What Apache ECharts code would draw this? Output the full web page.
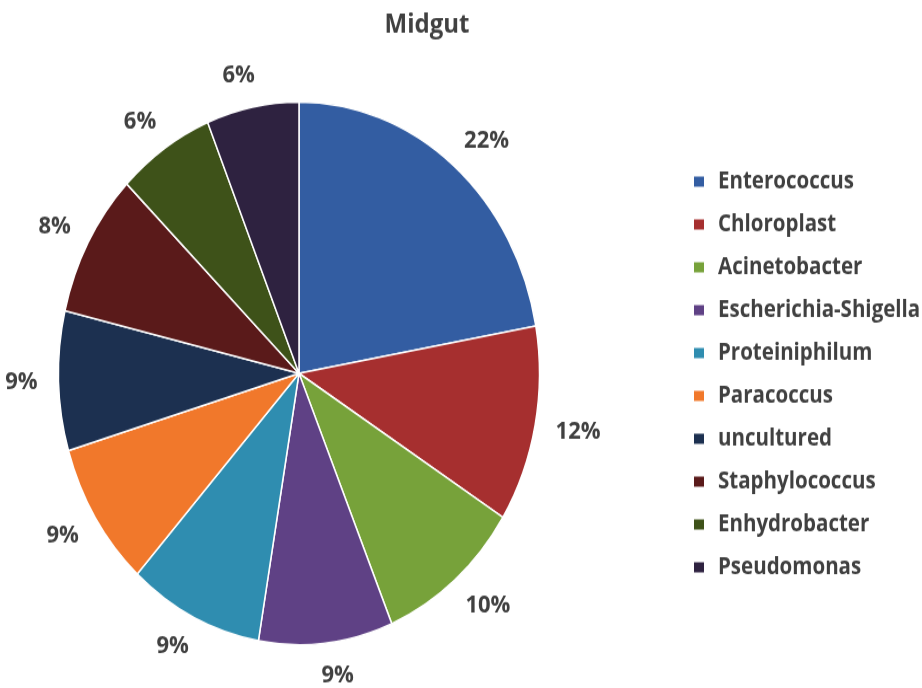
<!DOCTYPE html>
<html>
<head>
<meta charset="utf-8">
<script src="https://cdn.jsdelivr.net/npm/echarts@6/dist/echarts.min.js"></script>
<style>
html,body{margin:0;padding:0;background:#fff;width:922px;height:688px;}
#main{width:922px;height:610px;transform:scaleY(1.1279);transform-origin:0 0;}
</style>
</head>
<body>
<div id="main"></div>
<script>
const titleText = 'Midgut';
const categories = ['Enterococcus','Chloroplast','Acinetobacter','Escherichia-Shigella','Proteiniphilum','Paracoccus','uncultured','Staphylococcus','Enhydrobacter','Pseudomonas'];
// slice sizes (percent of the whole)
const values = [22.2, 11.7, 9.8, 9.0, 9.05, 8.65, 8.3, 8.6, 6.5, 6.2];
// percentage labels as printed on the chart
const percentLabels = ['22%', '12%', '10%', '9%', '9%', '9%', '9%', '8%', '6%', '6%'];
const colors = ['#335DA2','#A62F2F','#77A23A','#5F4185','#2F8DB0','#F1782B','#1C3050','#5A1A1A','#3E5219','#2E2240'];

const textColor = '#404040';
const fontFam = '"Open Sans", "Noto Sans", sans-serif';

const pieData = categories.map((c, i) => ({ name: c, value: values[i], itemStyle: { color: colors[i] } }));

const chart = echarts.init(document.getElementById('main'), null, { renderer: 'canvas' });
chart.setOption({
  animation: false,
  backgroundColor: '#ffffff',
  title: {
    text: titleText,
    left: 422,
    textAlign: 'center',
    top: 5,
    textStyle: { fontFamily: fontFam, fontSize: 24, fontWeight: 'bold', color: textColor }
  },
  legend: {
    orient: 'vertical',
    left: 692,
    top: 150,
    padding: 0,
    itemWidth: 12,
    itemHeight: 11,
    itemGap: 16,
    icon: 'rect',
    data: categories,
    textStyle: { fontFamily: fontFam, fontSize: 20.5, fontWeight: 'bold', color: textColor, lineHeight: 22, padding: [0, 0, 0, 8] }
  },
  series: [
    {
      type: 'pie',
      center: [299, 331],
      radius: [0, 240.5],
      startAngle: 90,
      clockwise: true,
      silent: true,
      avoidLabelOverlap: false,
      data: pieData,
      itemStyle: { borderColor: '#ffffff', borderWidth: 1.5 },
      label: {
        show: true,
        position: 'outside',
        formatter: p => percentLabels[p.dataIndex],
        distanceToLabelLine: -8,
        fontFamily: fontFam,
        fontSize: 22,
        fontWeight: 'bold',
        color: textColor
      },
      labelLine: { show: false, length: 29, length2: 0 }
    }
  ]
});
</script>
</body>
</html>
